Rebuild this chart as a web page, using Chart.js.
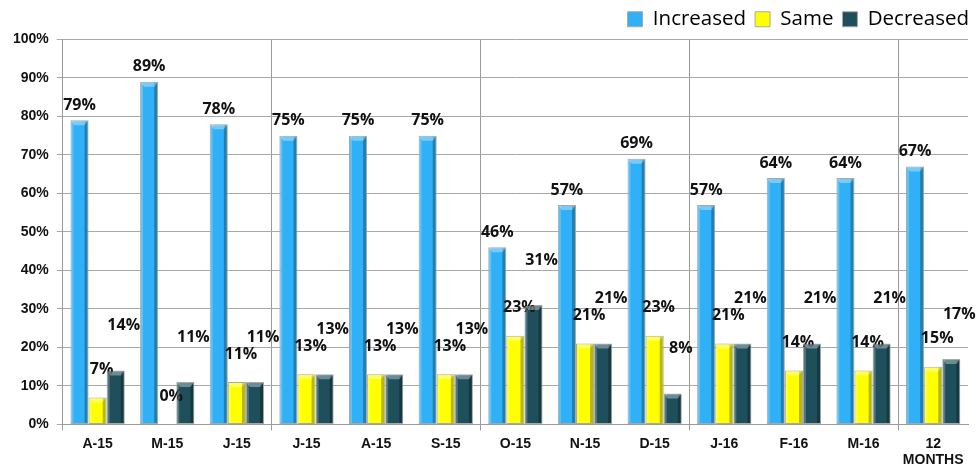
<!DOCTYPE html>
<html>
<head>
<meta charset="utf-8">
<script src="https://cdn.jsdelivr.net/npm/chart.js@4/dist/chart.umd.min.js"></script>
<style>
  html, body { margin: 0; padding: 0; background: #fff; }
  #wrap { width: 977px; height: 474px; position: relative; }
</style>
</head>
<body>
<div id="wrap"><canvas id="c"></canvas></div>
<script>
// Monthly survey shares, April 2015 through March 2016 plus the 12-month figure
const categories = ['A-15', 'M-15', 'J-15', 'J-15', 'A-15', 'S-15', 'O-15', 'N-15', 'D-15', 'J-16', 'F-16', 'M-16', ['12', 'MONTHS']];
const increased = [79, 89, 78, 75, 75, 75, 46, 57, 69, 57, 64, 64, 67];
const same      = [7, 0, 11, 13, 13, 13, 23, 21, 23, 21, 14, 14, 15];
const decreased = [14, 11, 11, 13, 13, 13, 31, 21, 8, 21, 21, 21, 17];
const yTicks = [0, 10, 20, 30, 40, 50, 60, 70, 80, 90, 100];

// quarter separators sit at the left edge of these category indexes
const quarterStarts = [0, 3, 6, 9, 12];

const labelFont = 'bold 16px "Open Sans", "DejaVu Sans", sans-serif';

// draws the bevelled look of each bar plus the value labels
const barDecor = {
  id: 'barDecor',
  afterDatasetsDraw(chart) {
    const ctx = chart.ctx;
    const lift = [15, 28, 45];
    const shift = [0, 4, 8];
    chart.data.datasets.forEach((ds, di) => {
      const meta = chart.getDatasetMeta(di);
      meta.data.forEach((bar, i) => {
        const { x, y, base, width } = bar.getProps(['x', 'y', 'base', 'width'], true);
        const l = x - width / 2, r = x + width / 2;
        const h = base - y;
        if (h > 1) {
          ctx.save();
          // darker right face
          ctx.fillStyle = 'rgba(0,0,0,0.28)';
          ctx.fillRect(r - 4, y + 1, 3, h - 2);
          // light left edge
          ctx.fillStyle = 'rgba(255,255,255,0.22)';
          ctx.fillRect(l + 1, y + 1, 2, h - 2);
          // top cap
          ctx.beginPath();
          ctx.moveTo(l + 1, y + 1);
          ctx.lineTo(r - 1, y + 1);
          ctx.lineTo(r - 4, y + 5);
          ctx.lineTo(l + 4, y + 5);
          ctx.closePath();
          ctx.fillStyle = 'rgba(255,255,255,0.35)';
          ctx.fill();
          ctx.restore();
        }
        ctx.save();
        ctx.font = labelFont;
        ctx.fillStyle = '#111';
        ctx.textAlign = 'center';
        ctx.textBaseline = 'middle';
        ctx.fillText(ds.data[i] + '%', x + shift[di], y - lift[di]);
        ctx.restore();
      });
    });
  }
};

// pushes the legend row flush with the right end of the plot
const legendNudge = {
  id: 'legendNudge',
  afterLayout(chart) {
    const lg = chart.legend;
    if (lg) { lg.left += 10; lg.right += 10; }
  }
};

new Chart(document.getElementById('c'), {
  type: 'bar',
  data: {
    labels: categories,
    datasets: [
      { label: 'Increased', data: increased, backgroundColor: '#30b0f6' },
      { label: 'Same', data: same, backgroundColor: '#ffff00' },
      { label: 'Decreased', data: decreased, backgroundColor: '#1e4f5b' }
    ].map(d => Object.assign(d, {
      borderColor: '#a8a8a8',
      borderWidth: 1,
      borderSkipped: false,
      categoryPercentage: 0.78,
      barPercentage: 1
    }))
  },
  options: {
    responsive: true,
    maintainAspectRatio: false,
    animation: false,
    layout: { padding: { left: 5, right: 9, top: 0, bottom: 0 } },
    plugins: {
      tooltip: { enabled: false },
      legend: {
        position: 'top',
        align: 'end',
        labels: {
          boxWidth: 15,
          boxHeight: 15,
          padding: 9,
          color: '#000',
          font: { family: '"Open Sans", "Noto Sans", sans-serif', size: 20.5 }
        }
      }
    },
    scales: {
      x: {
        grid: {
          offset: true,
          drawOnChartArea: true,
          color: c => quarterStarts.includes(c.index) ? '#9a9a9a' : 'rgba(0,0,0,0)',
          tickLength: 6,
          lineWidth: 1
        },
        border: { color: '#9a9a9a' },
        ticks: {
          color: '#111',
          padding: 5,
          maxRotation: 0,
          font: { family: '"Liberation Sans Narrow", "Arial Narrow", "Liberation Sans", sans-serif', weight: 'bold', size: 14 }
        }
      },
      y: {
        min: 0,
        max: 100,
        afterBuildTicks: s => { s.ticks = yTicks.map(v => ({ value: v })); },
        grid: { color: '#a8a8a8', tickLength: 6 },
        border: { color: '#9a9a9a' },
        ticks: {
          color: '#111',
          padding: 8,
          callback: v => v + '%',
          font: { family: '"Liberation Sans", Arial, sans-serif', weight: 'bold', size: 14 }
        }
      }
    }
  },
  plugins: [barDecor, legendNudge]
});
</script>
</body>
</html>
